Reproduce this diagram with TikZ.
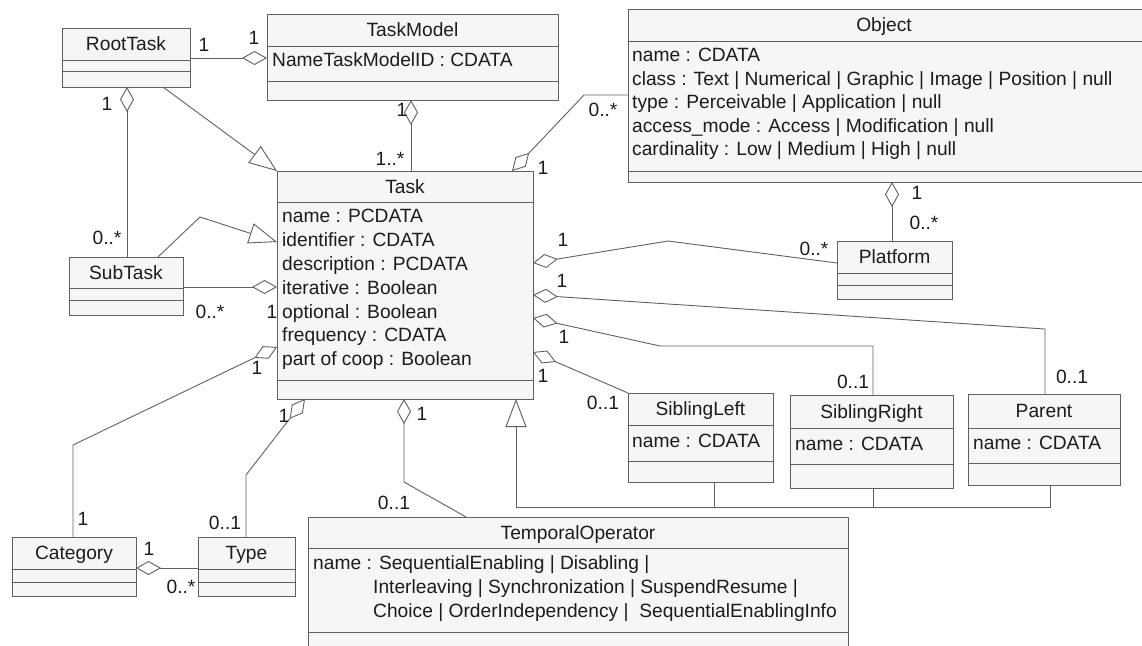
\documentclass[tikz,border=0pt]{standalone}
\usepackage{fontspec}
\setmainfont{Liberation Sans}
\usetikzlibrary{arrows.meta,calc}
\definecolor{linec}{RGB}{96,96,96}
\definecolor{boxfill}{RGB}{246,246,246}
\definecolor{txt}{RGB}{28,28,28}
\newcommand\umlfont{\fontsize{19.2}{23.8}\selectfont}
% \classbox{name}{x1}{y1}{x2}{y2}{sep1}{sep2}: a UML class with two separator lines
\newcommand\classbox[7]{%
  \node[cls, anchor=north west, minimum width={#4-#2}, minimum height={#5-#3}] (#1) at (#2,#3) {};
  \draw[sepline] (#2,#6) -- (#4,#6) (#2,#7) -- (#4,#7);
}
\tikzset{
  cls/.style={draw=linec, fill=boxfill, line width=0.9pt, inner sep=0pt, outer sep=0pt},
  sepline/.style={draw=linec, line width=0.9pt},
  ttl/.style={anchor=base, inner sep=0pt, font=\umlfont, text=txt},
  attr/.style={anchor=base west, inner sep=0pt, font=\umlfont, text=txt},
  mult/.style={inner sep=0pt, font=\umlfont, text=txt},
  conn/.style={draw=linec, line width=0.9pt},
  agg/.style={conn, {Diamond[open,length=25pt,width=14pt]}-},
  aggend/.style={conn, -{Diamond[open,length=25pt,width=14pt]}},
  gen/.style={conn, -{Triangle[open,length=28pt,width=21pt]}},
}
\begin{document}
\begin{tikzpicture}[x=1pt,y=-1pt]
\useasboundingbox (0,0) rectangle (1142,645);
\clip (0,0) rectangle (1142,645);

% ---------- classes ----------
\classbox{root}{62}{28}{190}{87}{60}{71}
\node[ttl] (root-t) at (126,50.8) {RootTask};

\classbox{tmodel}{267}{14}{558}{100}{46}{81}
\node[ttl] (tmodel-t) at (412.5,36.8) {TaskModel};
\node[attr] (tmodel-a) at (272,66.8) {NameTaskModelID : CDATA};

\classbox{obj}{628}{9}{1146}{182}{41}{171}
\node[ttl] (obj-t) at (884,31.8) {Object};
\foreach \a [count=\i] in {name : CDATA,
  class : Text | Numerical | Graphic | Image | Position | null,
  type : Perceivable | Application | null,
  access\_mode : Access | Modification | null,
  cardinality : Low | Medium | High | null}
  \node[attr] (obj-a\i) at (632,{61.8+23.5*(\i-1)}) {\a};

\classbox{task}{277}{171}{533}{399}{202}{380}
\node[ttl] (task-t) at (405,193.3) {Task};
\foreach \a [count=\i] in {name : PCDATA, identifier : CDATA, description : PCDATA,
  iterative : Boolean, optional : Boolean, frequency : CDATA, part of coop : Boolean}
  \node[attr] (task-a\i) at (282,{222.8+23.8*(\i-1)}) {\a};

\classbox{sub}{69}{257}{183}{315}{288}{300}
\node[ttl] (sub-t) at (126,279.3) {SubTask};

\classbox{plat}{837}{241}{952}{299}{273}{285}
\node[ttl] (plat-t) at (894.5,263.8) {Platform};

\classbox{cat}{12}{537}{136}{596}{569}{582}
\node[ttl] (cat-t) at (74,559.8) {Category};

\classbox{type}{198}{537}{295}{596}{569}{582}
\node[ttl] (type-t) at (246.5,559.8) {Type};

\classbox{temp}{308}{517}{848}{652}{548}{632}
\node[ttl] (temp-t) at (578,539.3) {TemporalOperator};
\node[attr] (temp-a1) at (313,569.8) {name : SequentialEnabling | Disabling |};
\node[attr] (temp-a2) at (373,593.8) {Interleaving | Synchronization | SuspendResume |};
\node[attr] (temp-a3) at (373,617.8) {Choice | OrderIndependency | \ SequentialEnablingInfo};

\classbox{sibl}{628}{393}{773}{482}{425}{461.5}
\node[ttl] (sibl-t) at (700.5,415.8) {SiblingLeft};
\node[attr] (sibl-a) at (632,447) {name : CDATA};

\classbox{sibr}{790}{395}{953}{488}{428.5}{464.5}
\node[ttl] (sibr-t) at (871.5,418.5) {SiblingRight};
\node[attr] (sibr-a) at (795,450) {name : CDATA};

\classbox{parent}{968}{394}{1120}{485}{428}{463}
\node[ttl] (parent-t) at (1044,417.8) {Parent};
\node[attr] (parent-a) at (973,449) {name : CDATA};

% ---------- connectors ----------
% RootTask -- TaskModel
\draw[aggend] ($(root.north east)+(0,30)$) -- ($(tmodel.north west)+(0,44)$);
% RootTask -- SubTask
\draw[agg] ($(root.south west)+(65,0)$) -- ($(sub.north west)+(58,0)$);
% RootTask specialises Task
\draw[gen] ($(root.south west)+(101,0)$) -- (task.north west);
% SubTask specialises Task
\draw[gen] ($(sub.north west)+(89,0)$) -- (200,217) -- ($(task.north west)+(0,71)$);
% SubTask -- Task
\draw[aggend] ($(sub.north east)+(0,30)$) -- ($(task.north west)+(0,116)$);
% Task -- TaskModel
\draw[aggend] ($(task.north west)+(134,0)$) -- ($(tmodel.south west)+(144,0)$);
% Task -- Object
\draw[agg] ($(task.north west)+(235,0)$) -- (584,95) -- ($(obj.north west)+(0,86)$);
% Object -- Platform
\draw[agg] ($(obj.south west)+(264,0)$) -- ($(plat.north west)+(55,0)$);
% Task -- Platform
\draw[agg] ($(task.north east)+(0,92)$) -- (668,241) -- ($(plat.north west)+(0,22)$);
% Task -- Parent
\draw[agg] ($(task.north east)+(0,124)$) -- (1045,329) -- ($(parent.north west)+(77,0)$);
% Task -- SiblingRight
\draw[agg] ($(task.north east)+(0,147)$) -- (660,346) -- (873,346) -- ($(sibr.north west)+(83,0)$);
% Task -- SiblingLeft
\draw[agg] ($(task.north east)+(0,181)$) -- (sibl.north west);
% Task -- Category
\draw[agg] ($(task.north west)+(0,176)$) -- (73,445) -- ($(cat.north west)+(61,0)$);
% Task -- Type
\draw[agg] ($(task.south west)+(28,0)$) -- (246,475) -- ($(type.north west)+(48,0)$);
% Task -- TemporalOperator
\draw[agg] ($(task.south west)+(127,0)$) -- (404,482) -- ($(temp.north west)+(158,0)$);
% Category -- Type
\draw[agg] ($(cat.north east)+(0,31)$) -- ($(type.north west)+(0,31)$);
% SiblingLeft, SiblingRight and Parent specialise Task
\draw[gen] ($(sibl.south west)+(86,0)$) -- (714,507) -- (516,507) -- ($(task.south west)+(239,0)$);
\draw[conn] ($(sibr.south west)+(83,0)$) -- (873,507);
\draw[conn] ($(parent.south west)+(82,0)$) -- (1050,507) -- (714,507);

% ---------- multiplicities ----------
\node[mult] (m-rt1) at (204,45) {1};
\node[mult] (m-tm1) at (254,37.5) {1};
\node[mult] (m-rs1) at (107,103.5) {1};
\node[mult] (m-rs2) at (107,238) {0..*};
\node[mult] (m-tt1) at (402,110) {1};
\node[mult] (m-tt2) at (390,159) {1..*};
\node[mult] (m-to1) at (543,168) {1};
\node[mult] (m-to2) at (603,110) {0..*};
\node[mult] (m-op1) at (917,193) {1};
\node[mult] (m-op2) at (924,223) {0..*};
\node[mult] (m-tp1) at (563,240) {1};
\node[mult] (m-tp2) at (814,249) {0..*};
\node[mult] (m-pa1) at (562,281) {1};
\node[mult] (m-pa2) at (1072,377) {0..1};
\node[mult] (m-sr1) at (564,337) {1};
\node[mult] (m-sr2) at (853,382) {0..1};
\node[mult] (m-sl1) at (543,376) {1};
\node[mult] (m-sl2) at (603,403) {0..1};
\node[mult] (m-st1) at (210,312) {0..*};
\node[mult] (m-st2) at (272,312) {1};
\node[mult] (m-ct1) at (257,368) {1};
\node[mult] (m-ct2) at (83,519) {1};
\node[mult] (m-ty1) at (284,416) {1};
\node[mult] (m-ty2) at (225,523) {0..1};
\node[mult] (m-tp3) at (422,414) {1};
\node[mult] (m-tp4) at (394,503) {0..1};
\node[mult] (m-cy1) at (149,549) {1};
\node[mult] (m-cy2) at (181,587) {0..*};
\end{tikzpicture}
\end{document}
